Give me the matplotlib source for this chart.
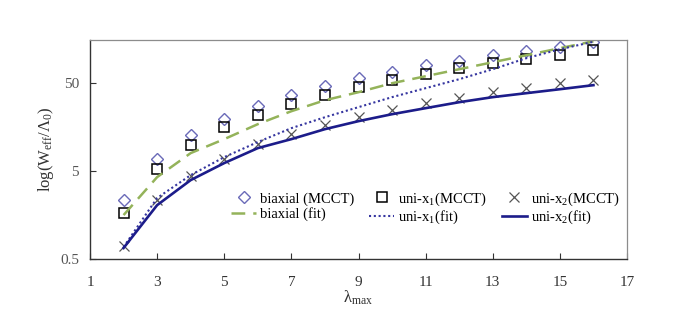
import matplotlib
matplotlib.use("Agg")
import matplotlib.pyplot as plt
import numpy as np

plt.rcParams['font.family'] = ['Liberation Serif', 'DejaVu Serif']
plt.rcParams['mathtext.fontset'] = 'custom'
plt.rcParams['mathtext.rm'] = 'Liberation Serif'
plt.rcParams['mathtext.it'] = 'Liberation Serif:italic'

# lambda_max
lam = [2, 3, 4, 5, 6, 7, 8, 9, 10, 11, 12, 13, 14, 15, 16]

# MCCT results
biaxial_mcct = [2.34, 6.94, 13.0, 19.7, 27.4, 36.5, 46.2, 57, 66.7, 80, 89, 104, 116, 128, 146]
uni_x1_mcct = [1.67, 5.27, 10.0, 15.8, 21.7, 28.9, 36.5, 45.0, 54.1, 63, 74, 84, 94, 104, 119]
uni_x2_mcct = [0.70, 2.34, 4.44, 6.94, 10.1, 13.2, 16.7, 20.5, 24.7, 29.6, 33.8, 39.5, 43.9, 50, 54]

# fits
biaxial_fit = [1.58, 4.27, 8.01, 11.55, 17.1, 24.0, 32.0, 39.5, 50.0, 60.0, 72.1, 86.6, 104, 125, 150]
uni_x1_fit = [0.684, 2.47, 4.50, 7.21, 10.7, 15.4, 20.5, 26.7, 34.7, 43.9, 55.5, 72.1, 96.2, 121.7, 148]
uni_x2_fit = [0.667, 2.05, 3.95, 6.17, 9.13, 11.55, 15.0, 18.5, 22.2, 26.0, 30.4, 34.7, 38.5, 42.7, 47.5]

xticks = [1, 3, 5, 7, 9, 11, 13, 15, 17]
yticks = [0.5, 5, 50]

fig = plt.figure(figsize=(6.9, 3.24), dpi=100)
ax = fig.add_axes([90/690, 1-259/324, (627-90)/690, (259-40)/324])

d1, = ax.plot(lam, biaxial_mcct, linestyle='none', marker='D', markersize=5.8,
              markerfacecolor='none', markeredgecolor='#6a6ab8', markeredgewidth=1.0)
s1, = ax.plot(lam, uni_x1_mcct, linestyle='none', marker='s', markersize=7.5,
              markerfacecolor='none', markeredgecolor='k', markeredgewidth=1.1)
c1, = ax.plot(lam, uni_x2_mcct, linestyle='none', marker='x', markersize=6.5,
              markeredgecolor='#555555', markeredgewidth=0.9)

l1, = ax.plot(lam, biaxial_fit, color='#94b35a', lw=1.8, linestyle=(0, (5.5, 3.2)))
l2, = ax.plot(lam, uni_x1_fit, color='#3636a0', lw=1.5, linestyle=(0, (1, 1.3)))
l3, = ax.plot(lam, uni_x2_fit, color='#1c1c8a', lw=1.9)

ax.set_yscale('log')
ax.set_xlim(1, 17)
ax.set_ylim(0.5, 155)
ax.set_xticks(xticks)
ax.set_xticklabels([str(t) for t in xticks])
ax.set_yticks(yticks)
ax.set_yticklabels(['0.5', '5', '50'])
ax.yaxis.set_minor_locator(matplotlib.ticker.NullLocator())
ax.tick_params(direction='in', length=4, width=0.8, colors='#333333', labelsize=11, pad=8)
ax.tick_params(axis='x', pad=12)
ax.tick_params(axis='y', labelcolor='#555555')

for side in ['top', 'right']:
    ax.spines[side].set_color('#8c8c8c')
    ax.spines[side].set_linewidth(0.9)
for side in ['left', 'bottom']:
    ax.spines[side].set_color('#333333')
    ax.spines[side].set_linewidth(1.0)

ax.set_ylabel('log(W$_{\\rm eff}$/Λ$_{\\rm 0}$)', fontsize=12, color='#333333', labelpad=3)
ax.set_xlabel('λ$_{\\rm max}$', fontsize=12, color='#333333', labelpad=0)

handles = [d1, l1, s1, l2, c1, l3]
labels = ['biaxial (MCCT)', 'biaxial (fit)', 'uni-x$_{\\rm 1}$(MCCT)', 'uni-x$_{\\rm 1}$(fit)',
          'uni-x$_{\\rm 2}$(MCCT)', 'uni-x$_{\\rm 2}$(fit)']
ax.legend(handles, labels, ncol=3, frameon=False, fontsize=10.5, handlelength=1.7,
          handletextpad=0.3, columnspacing=1.0, labelspacing=0.1, borderpad=0,
          loc='upper left', bbox_to_anchor=(224/690, 1-183/324), bbox_transform=fig.transFigure)

fig.savefig('out.png', dpi=100)
